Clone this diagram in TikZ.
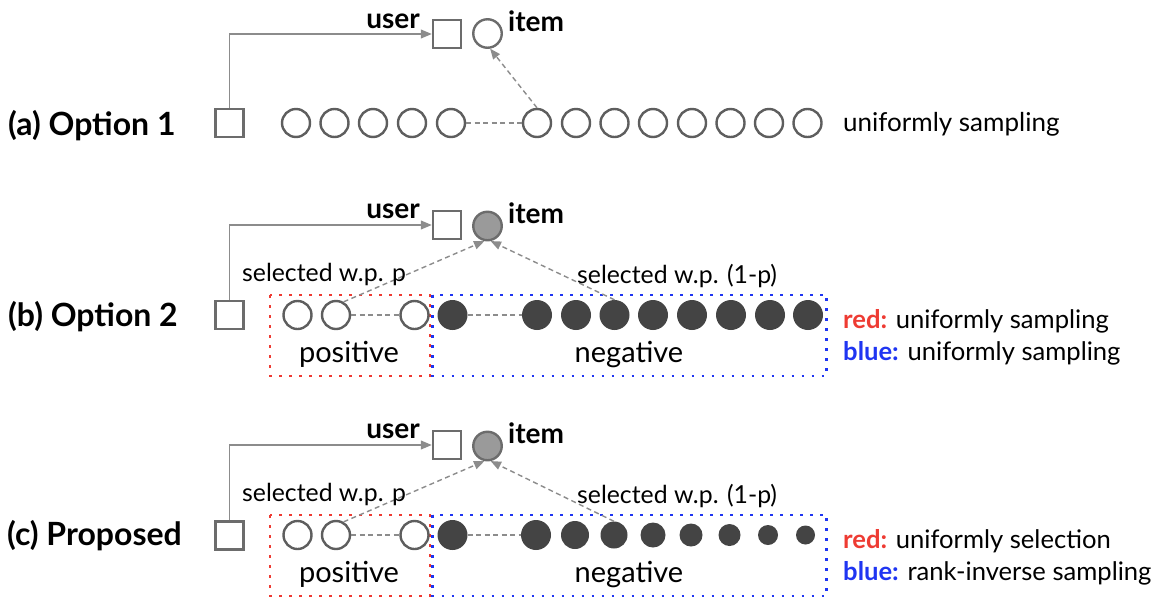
\documentclass[tikz,border=0pt]{standalone}
\usepackage{fontspec}
\setmainfont{Lato}
\usetikzlibrary{arrows, shapes}

\definecolor{edgegray}{HTML}{6C6C6C}
\definecolor{ringgray}{HTML}{5E5E5E}
\definecolor{linegray}{HTML}{8C8C8C}
\definecolor{darkfill}{HTML}{444444}
\definecolor{itemfill}{HTML}{9A9A9A}
\definecolor{boxred}{HTML}{EE3B33}
\definecolor{boxblue}{HTML}{1F35F2}

\begin{document}
\begin{tikzpicture}[x=1pt, y=-1pt,
  usr/.style={rectangle, draw=edgegray, line width=2.6pt, minimum size=28pt, inner sep=0pt},
  opn/.style={circle, draw=ringgray, line width=2.4pt, minimum size=28pt, inner sep=0pt},
  neg/.style={circle, fill=darkfill, minimum size=30pt, inner sep=0pt},
  itm/.style={circle, draw=edgegray, line width=2.4pt, minimum size=28.5pt, inner sep=0pt},
  conn/.style={draw=linegray, line width=1.5pt},
  dsh/.style={draw=linegray, line width=1.4pt, dash pattern=on 5pt off 3.5pt},
  redbox/.style={draw=boxred, line width=2.6pt, dash pattern=on 2.6pt off 7.4pt},
  bluebox/.style={draw=boxblue, line width=2.6pt, dash pattern=on 2.6pt off 7.4pt},
  row/.style={font=\bfseries\fontsize{32}{36}\selectfont, inner sep=0pt},
  lbl/.style={font=\bfseries\fontsize{28}{32}\selectfont, inner sep=0pt},
  txt/.style={font=\fontsize{25.6}{30}\selectfont, inner sep=0pt},
  sel/.style={font=\fontsize{24.8}{29}\selectfont, inner sep=0pt},
  grp/.style={font=\fontsize{29}{33}\selectfont, inner sep=0pt}]
  \useasboundingbox (0,0) rectangle (1156,598);

  % (a) Option 1
  \node[row, anchor=base west] (la) at (8,135) {(a) Option 1};
  \node[usr] (sa) at (229.5,123) {};
  \node[usr] (ua) at (447,34) {};
  \node[itm] (ia) at (487.5,33.5) {};
  \node[lbl, anchor=base east] (tua) at (420,28) {user};
  \node[lbl, anchor=base west] (tia) at (508,31) {item};
  \foreach \x [count=\i] in {296,334.5,373,412,451,537,576,614.5,653,692,730.5,769,807.5}
    \node[opn] (a\i) at (\x,123) {};
  \draw[conn, -triangle 45] (sa.north) |- (ua.west);
  \draw[dsh] (a5) -- (a6);
  \draw[dsh, -triangle 45] (a6.north) -- (ia.280);
  \node[txt, font=\fontsize{26}{30}\selectfont, anchor=base west] (ra) at (843,131) {uniformly sampling};

  % (b) Option 2
  \draw[redbox] (270,295) rectangle (430,376);
  \draw[bluebox] (432.5,295) rectangle (826.5,376);
  \node[row, anchor=base west] (lb) at (8,326) {(b) Option 2};
  \node[usr] (sb) at (229.5,315) {};
  \node[usr] (ub) at (447,225) {};
  \node[itm, fill=itemfill] (ib) at (487.5,226) {};
  \node[lbl, anchor=base east] (tub) at (420,218.5) {user};
  \node[lbl, anchor=base west] (tib) at (508,223) {item};
  \foreach \x [count=\i] in {297.5,336,414.5}
    \node[opn] (b\i) at (\x,315) {};
  \foreach \x [count=\i from 4] in {452.5,537,576,614.5,653,692,731,770,808}
    \node[neg] (b\i) at (\x,315) {};
  \draw[conn, -triangle 45] (sb.north) |- (ub.west);
  \draw[dsh] (b2) -- (b3);
  \draw[dsh] (b4) -- (b5);
  \draw[dsh, -triangle 45] (b2.60) -- (ib.258);
  \draw[dsh, -triangle 45] (b7.north) -- (ib.282);
  \node[sel, anchor=base west] (pb) at (242,281) {selected w.p. p};
  \node[sel, anchor=base west] (qb) at (577,283) {selected w.p. (1-p)};
  \node[grp, anchor=base] (posb) at (349,362) {positive};
  \node[grp, anchor=base] (negb) at (629,362) {negative};
  \node[txt, anchor=base west] (rb) at (843,328) {\textcolor{boxred}{\bfseries red:} uniformly sampling};
  \node[txt, anchor=base west] (bb) at (843,360) {\textcolor{boxblue}{\bfseries blue:} uniformly sampling};

  % (c) Proposed
  \draw[redbox] (270,515) rectangle (430,596);
  \draw[bluebox] (432.5,515) rectangle (826.5,596);
  \node[row, anchor=base west] (lc) at (7,545) {(c) Proposed};
  \node[usr] (sc) at (229.5,535.5) {};
  \node[usr] (uc) at (447,445) {};
  \node[itm, fill=itemfill] (ic) at (487.5,446) {};
  \node[lbl, anchor=base east] (tuc) at (420,438.5) {user};
  \node[lbl, anchor=base west] (tic) at (508,443) {item};
  \foreach \x [count=\i] in {297.5,336,414.5}
    \node[opn] (c\i) at (\x,535) {};
  \foreach \x/\r [count=\i from 4] in {452.5/15,536/15,575/14,614/13.5,653/12.5,691/11.5,729.5/11,768/10,805.5/9.5}
    \node[neg, minimum size=2*\r pt] (c\i) at (\x,535) {};
  \draw[conn, -triangle 45] (sc.north) |- (uc.west);
  \draw[dsh] (c2) -- (c3);
  \draw[dsh] (c4) -- (c5);
  \draw[dsh, -triangle 45] (c2.60) -- (ic.258);
  \draw[dsh, -triangle 45] (c7.north) -- (ic.282);
  \node[sel, anchor=base west] (pc) at (242,501) {selected w.p. p};
  \node[sel, anchor=base west] (qc) at (577,503) {selected w.p. (1-p)};
  \node[grp, anchor=base] (posc) at (349,582) {positive};
  \node[grp, anchor=base] (negc) at (629,582) {negative};
  \node[txt, anchor=base west] (rc) at (843,548) {\textcolor{boxred}{\bfseries red:} uniformly selection};
  \node[txt, anchor=base west] (bc) at (843,580) {\textcolor{boxblue}{\bfseries blue:} rank-inverse sampling};
\end{tikzpicture}
\end{document}
